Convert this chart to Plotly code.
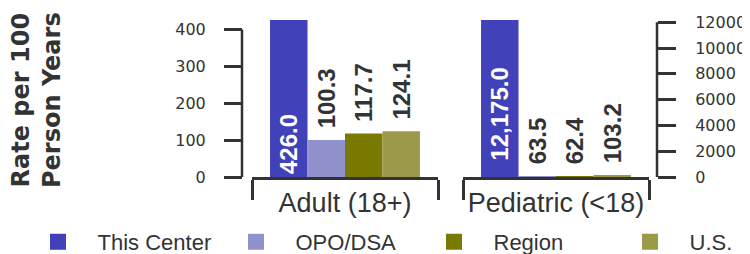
import plotly.graph_objects as go

groups = ["Adult (18+)", "Pediatric (<18)"]
series = ["This Center", "OPO/DSA", "Region", "U.S."]
adult_values = [426.0, 100.3, 117.7, 124.1]
pediatric_values = [12175.0, 63.5, 62.4, 103.2]
colors = ["#4141BA", "#9191CD", "#7A7A00", "#9A9A4A"]
left_ticks = [0, 100, 200, 300, 400]
right_ticks = [0, 2000, 4000, 6000, 8000, 10000, 12000]

# page body has an 8px margin; lay out in page pixels minus that offset
O = 8
W, H = 750 - O, 254 - O
AX = "#333333"
PAD_OUT = "\u00a0\u200a"
PAD_IN_PED = "\u00a0\u00a0"


def px(v):
    return (v - O) / W


fig = go.Figure()

for i, (name, color) in enumerate(zip(series, colors)):
    inside = i == 0
    for xa, ya, grp, val in (("x", "y", groups[0], adult_values[i]),
                             ("x2", "y2", groups[1], pediatric_values[i])):
        label = "{:,.1f}".format(val)
        if inside:
            label = (PAD_IN_PED + label) if xa == "x2" else label
        else:
            label = PAD_OUT + label
        fig.add_trace(go.Bar(
            x=[grp], y=[val], name=name, marker=dict(color=color, line=dict(width=0)),
            xaxis=xa, yaxis=ya, showlegend=False, offsetgroup=str(i),
            text=[label], texttemplate="%{text}",
            textposition="inside" if inside else "outside",
            insidetextanchor="start", textangle=-90, constraintext="none",
            cliponaxis=False,
            textfont=dict(family="Liberation Sans", size=24,
                          color="white" if inside else AX, weight="bold"),
            hoverinfo="skip",
        ))

for i, (name, color) in enumerate(zip(series, colors)):
    fig.add_trace(go.Scatter(
        x=[None], y=[None], mode="markers", name=name, xaxis="x", yaxis="y",
        marker=dict(symbol="square", size=20, color=color), showlegend=True,
        legend="legend" if i < 3 else "legend2",
    ))

xcommon = dict(range=[-0.5, 0.5], showline=True, linecolor=AX, linewidth=2.5,
               ticks="outside", tickson="boundaries", ticklen=20, tickwidth=2.5,
               tickcolor=AX, showgrid=False, zeroline=False, fixedrange=True,
               tickangle=0, automargin=False,
               tickfont=dict(family="Liberation Sans", size=27, color=AX),
               ticklabelstandoff=0)
ycommon = dict(anchor="free", showline=False, ticks="outside", ticklen=18,
               tickwidth=2.5, tickcolor=AX, showgrid=False, zeroline=False,
               tickformat="d", automargin=False,
               tickfont=dict(family="DejaVu Sans", size=16, color=AX))

legend_common = dict(orientation="h", xanchor="left", xref="container",
                     y=1 - (221 - O) / H, yanchor="top", yref="container",
                     font=dict(family="Liberation Sans", size=22, color=AX),
                     itemwidth=69, entrywidth=114, entrywidthmode="pixels",
                     traceorder="normal", bgcolor="rgba(0,0,0,0)")

fig.update_layout(
    width=W, height=H, margin=dict(l=0, r=0, t=20 - O, b=77, autoexpand=False),
    barmode="group", bargap=0.194, bargroupgap=0,
    plot_bgcolor="white", paper_bgcolor="white",
    xaxis=dict(domain=[px(252), px(438)], anchor="y", **xcommon),
    xaxis2=dict(domain=[px(463), px(649)], anchor="y2", **xcommon),
    yaxis=dict(range=[0, adult_values[0]], position=px(242), tickvals=left_ticks,
               side="left", ticklabelstandoff=15, **ycommon),
    yaxis2=dict(range=[0, pediatric_values[0]], position=px(657), tickvals=right_ticks,
                side="right", ticklabelstandoff=16, **ycommon),
    legend=dict(x=px(18.5), **legend_common),
    legend2=dict(x=px(610.5), **legend_common),
    shapes=[
        dict(type="line", xref="paper", yref="y", x0=px(242), x1=px(242),
             y0=left_ticks[0], y1=left_ticks[-1], line=dict(color=AX, width=2.5)),
        dict(type="line", xref="paper", yref="y2", x0=px(657), x1=px(657),
             y0=right_ticks[0], y1=right_ticks[-1], line=dict(color=AX, width=2.5)),
    ],
    annotations=[
        dict(text="Rate per 100<br>Person Years", textangle=-90, xref="paper", yref="paper",
             x=px(36), y=(177 - 100) / 157, xanchor="center", yanchor="middle",
             showarrow=False,
             font=dict(family="DejaVu Sans", size=24, color=AX, weight="bold")),
    ],
)

fig.write_html("out.html")
